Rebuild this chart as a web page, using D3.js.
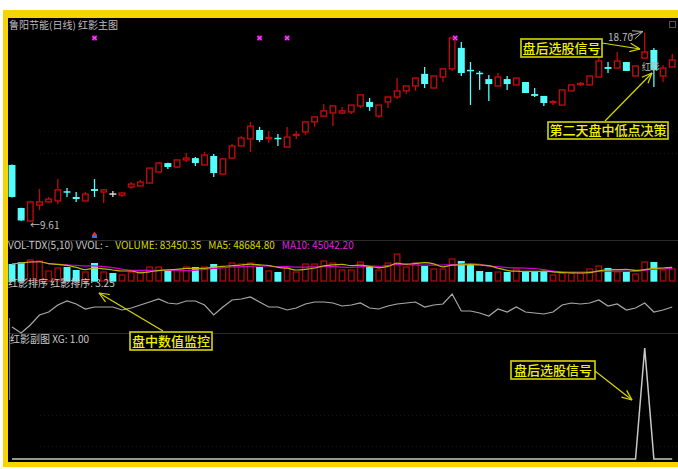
<!DOCTYPE html>
<html><head><meta charset="utf-8">
<script src="https://cdn.jsdelivr.net/npm/d3@7"></script>
<style>html,body{margin:0;padding:0;background:#fff;}svg{display:block}</style>
</head><body><svg id="c" width="678" height="469"></svg>
<script>
// ---------- data ----------
const days = d3.range(73);
const opens  = [12.33,10.26,9.63,10.40,10.55,10.60,11.03,10.79,10.60,11.17,11.03,10.93,10.88,11.27,11.32,11.46,11.99,12.42,12.23,12.57,12.66,12.33,12.76,11.89,12.66,13.24,13.58,14.01,13.60,13.60,13.19,13.75,13.92,14.40,14.68,14.83,14.83,14.88,15.17,15.36,14.68,15.36,15.60,15.89,16.13,16.71,16.03,16.56,16.95,17.96,16.87,16.73,16.46,16.13,16.46,16.18,16.32,15.74,15.65,15.33,15.21,15.89,16.20,16.18,16.56,17.04,16.99,17.28,16.61,17.47,17.86,16.61,17.04];
const highs  = [12.35,10.27,10.56,11.17,10.79,11.65,11.22,11.03,11.03,11.65,11.17,11.08,10.98,11.51,11.61,12.18,12.47,12.43,12.57,12.91,12.71,12.95,12.86,12.62,13.34,13.72,14.40,14.16,13.96,13.82,14.16,13.96,14.40,14.64,15.26,15.17,15.12,15.21,15.70,15.55,15.21,15.60,16.51,16.13,16.51,17.04,16.61,16.95,18.44,18.24,17.28,16.85,16.66,16.75,16.61,16.51,16.32,16.03,15.65,15.45,15.94,16.18,16.32,16.61,17.47,17.28,17.76,17.28,17.09,18.70,17.96,17.14,17.67];
const lows   = [10.77,9.64,9.61,10.16,10.54,10.45,10.79,10.55,10.60,10.79,10.50,10.79,10.79,11.17,11.32,11.46,11.99,12.14,12.18,12.47,12.28,12.33,11.75,11.89,12.66,13.24,12.95,13.43,13.39,13.24,13.19,13.58,13.77,14.16,14.68,14.20,14.78,14.78,15.07,14.93,14.59,15.07,15.50,15.74,15.89,16.03,16.03,16.32,16.85,16.61,15.21,15.94,15.41,16.13,15.94,16.18,15.79,15.60,15.17,15.21,15.21,15.89,16.13,16.18,16.56,16.75,16.99,16.85,16.61,17.47,16.08,16.32,17.04];
const closes = [10.79,9.66,10.55,10.55,10.69,11.13,10.98,10.69,10.93,11.08,11.13,10.93,10.98,11.41,11.51,12.18,12.42,12.23,12.57,12.66,12.42,12.81,11.94,12.62,13.24,13.63,14.20,13.53,13.65,13.55,13.67,13.80,14.40,14.64,14.93,15.17,14.93,15.21,15.70,15.12,15.21,15.60,15.89,16.13,16.51,16.22,16.61,16.95,18.44,16.75,16.83,16.68,16.22,16.56,16.22,16.51,15.79,15.65,15.31,15.38,15.94,16.18,16.25,16.61,17.33,16.95,17.33,16.85,17.09,17.76,16.90,16.99,17.38];
const volumes = [118200,132100,146000,139100,69500,90400,97300,76500,62600,125200,62600,55600,41700,62600,62600,97300,97300,69500,76500,97300,97300,97300,118200,97300,125200,118200,125200,97300,69500,62600,90400,62600,118200,118200,139100,125200,76500,76500,132100,97300,76500,125200,187700,97300,125200,104300,83450,83450,153000,139100,111200,69500,62600,62600,62600,83450,62600,62600,69500,41700,55600,55600,55600,83450,104300,90400,62600,62600,48700,132100,132100,76500,83450];
const rankValues = [1.25,0.65,1.45,2.45,2.75,3.45,3.85,3.55,3.05,3.25,3.25,3.25,2.95,3.15,3.45,3.75,4.05,3.65,3.55,3.85,3.85,3.45,2.45,3.25,3.95,4.05,4.25,3.75,3.25,3.25,2.95,3.15,3.55,3.75,3.75,3.65,3.35,3.45,3.65,3.15,3.05,3.35,3.55,3.65,3.75,3.25,3.45,3.55,4.55,2.85,2.85,2.65,2.35,3.05,2.75,3.25,2.75,2.65,2.55,2.75,3.45,3.65,3.55,3.65,3.95,3.35,3.55,2.95,3.15,3.65,2.75,2.95,3.25];
const xgValues = [0,0,0,0,0,0,0,0,0,0,0,0,0,0,0,0,0,0,0,0,0,0,0,0,0,0,0,0,0,0,0,0,0,0,0,0,0,0,0,0,0,0,0,0,0,0,0,0,0,0,0,0,0,0,0,0,0,0,0,0,0,0,0,0,0,0,0,0,0,1,0,0,0];
const markerDays = [9,27,30,48];
const priceLabels = {low:"9.61", high:"18.70"};
const headerTitle = "鲁阳节能(日线) 红影主图";
const volTexts = [["VOL-TDX(5,10) VVOL: -","#c8c8c8"],["VOLUME: 83450.35","#d8d800"],["MA5: 48684.80","#d8d800"],["MA10: 45042.20","#e020e0"]];
const rankTitle = "红影排序  红影排序: 3.25";
const xgTitle = "红影副图  XG: 1.00";

// ---------- drawing ----------
const W=678,H=469;
const svg=d3.select('#c');
const RED='#bf0b0b', CYAN='#54fcfc';
svg.append('rect').attr('width',W).attr('height',H).attr('fill','#fff');
svg.append('rect').attr('x',3).attr('y',10).attr('width',W).attr('height',457).attr('fill','#f7d400');
svg.append('rect').attr('x',8).attr('y',18).attr('width',W).attr('height',444).attr('fill','#000');

const x=d3.scaleBand().domain(days).range([7.4,676.8]).paddingInner(0.24).paddingOuter(0.12);
const bw=x.bandwidth();
const cx=i=>x(i)+bw/2;
const y=d3.scaleLinear().domain([9.61,18.70]).range([221.5,32.5]);
const yV=d3.scaleLinear().domain([0,190000]).range([281,253.7]);
const yR=d3.scaleLinear().domain([0,5]).range([339.5,289.5]);
const yX=d3.scaleLinear().domain([0,1]).range([459,348]);

// separators and faint grid
[240,333].forEach(yy=>svg.append('line').attr('x1',8).attr('x2',W).attr('y1',yy+0.5).attr('y2',yy+0.5).attr('stroke','#2a2a2a'));
[131,153,415,446].forEach(yy=>svg.append('line').attr('x1',40).attr('x2',W).attr('y1',yy+0.5).attr('y2',yy+0.5).attr('stroke','#161616').attr('stroke-dasharray','1,3'));
svg.append('line').attr('x1',9.5).attr('x2',9.5).attr('y1',318).attr('y2',400).attr('stroke','#777').attr('stroke-width',1.2);

const font='"Noto Sans CJK SC","Liberation Sans",sans-serif';
function txt(s,xx,yy,fill,size,anchor){return svg.append('text').attr('x',xx).attr('y',yy).attr('fill',fill).attr('font-size',size||10).attr('font-family',font).attr('text-anchor',anchor||'start').text(s);}

// title
txt(headerTitle,9,28.5,'#bdbdbd',10);

// candles
const g=svg.append('g');
days.forEach(i=>{
  const o=opens[i],c=closes[i],h=highs[i],l=lows[i];
  const col=c>o?RED:(c<o?CYAN:'#d8d8d8');
  const top=y(Math.max(o,c)),bot=y(Math.min(o,c));
  const xc=cx(i);
  if(c>o){
    g.append('line').attr('x1',xc).attr('x2',xc).attr('y1',y(h)).attr('y2',top).attr('stroke',col).attr('stroke-width',1.3);
    g.append('line').attr('x1',xc).attr('x2',xc).attr('y1',bot).attr('y2',y(l)).attr('stroke',col).attr('stroke-width',1.3);
    const hh=Math.max(bot-top,1);
    g.append('rect').attr('x',x(i)+0.7).attr('y',top).attr('width',bw-1.4).attr('height',hh).attr('fill','#000').attr('stroke',col).attr('stroke-width',1.4);
  } else {
    g.append('line').attr('x1',xc).attr('x2',xc).attr('y1',y(h)).attr('y2',y(l)).attr('stroke',col).attr('stroke-width',1.3);
    const hh=Math.max(bot-top,1.5);
    g.append('rect').attr('x',x(i)).attr('y',top-(bot-top<1.5?0.75:0)).attr('width',bw).attr('height',hh).attr('fill',col);
  }
});

// markers
markerDays.forEach(i=>{
  const xc=cx(i)+(i===48?3:0), yy=38;
  svg.append('rect').attr('x',xc-2.5).attr('y',yy-2.5).attr('width',5).attr('height',5).attr('fill','#8a008a');
  svg.append('path').attr('d',`M${xc-2},${yy-2}L${xc+2},${yy+2}M${xc+2},${yy-2}L${xc-2},${yy+2}`).attr('stroke','#ff40ff').attr('stroke-width',1.2);
});
svg.append('path').attr('d',`M${cx(9)-2.5},235 L${cx(9)},231.5 L${cx(9)+2.5},235 Z`).attr('fill','#e03030');
svg.append('rect').attr('x',cx(9)-2.5).attr('y',235).attr('width',5).attr('height',3).attr('fill','#3070ff');

// price labels
txt('←'+priceLabels.low,30,229,'#bdbdbd',10);
txt(priceLabels.high,608,41,'#bdbdbd',10);
svg.append('rect').attr('x',669.5).attr('y',21.5).attr('width',6).attr('height',6).attr('fill','none').attr('stroke','#555');
txt('红影',cx(69)-3,70,'#b8b8b8',9);

// volume panel
const vt=svg.append('text').attr('x',8).attr('y',249).attr('font-size',10).attr('font-family',font);
volTexts.forEach(([s,c],k)=>vt.append('tspan').attr('fill',c).attr('dx',k?7:0).text(s));
days.forEach(i=>{
  const up=closes[i]>opens[i];
  const t=yV(volumes[i]),b=yV(0);
  if(up) svg.append('rect').attr('x',x(i)+0.7).attr('y',t).attr('width',bw-1.4).attr('height',b-t).attr('fill','none').attr('stroke','#b00808').attr('stroke-width',1.3);
  else svg.append('rect').attr('x',x(i)).attr('y',t).attr('width',bw).attr('height',b-t+0.7).attr('fill',CYAN);
});
function ma(n){return volumes.map((v,i)=>d3.mean(volumes.slice(Math.max(0,i-n+1),i+1)));}
const ma5=ma(5),ma10=ma(10);
const lineV=arr=>d3.line().x((d,i)=>cx(i)).y(d=>yV(d)).curve(d3.curveMonotoneX)(arr);
svg.append('path').attr('d',lineV(ma10)).attr('fill','none').attr('stroke','#d000d0').attr('stroke-width',1.2);
svg.append('path').attr('d',lineV(ma5)).attr('fill','none').attr('stroke','#b8b800').attr('stroke-width',1.2);

// rank panel
txt(rankTitle,8,287,'#c8c8c8',10);
svg.append('path').attr('d',d3.line().x((d,i)=>cx(i)).y(d=>yR(d))(rankValues)).attr('fill','none').attr('stroke','#a8a8a8').attr('stroke-width',1.2);

// XG panel
txt(xgTitle,10,343,'#c8c8c8',10);
svg.append('path').attr('d',d3.line().x((d,i)=>cx(i)).y(d=>yX(d))(xgValues)).attr('fill','none').attr('stroke','#c8c8c8').attr('stroke-width',1.5);

// annotations
const YEL='#d8d800';
function arrow(x1,y1,x2,y2,col,w){
  svg.append('line').attr('x1',x1).attr('y1',y1).attr('x2',x2).attr('y2',y2).attr('stroke',col).attr('stroke-width',w||1.2);
  const a=Math.atan2(y1-y2,x1-x2),L=11,s=0.4;
  [a-s,a+s].forEach(b=>svg.append('line').attr('x1',x2).attr('y1',y2).attr('x2',x2+L*Math.cos(b)).attr('y2',y2+L*Math.sin(b)).attr('stroke',col).attr('stroke-width',w||1.2));
}
function box(s,x0,y0,w,h){
  svg.append('rect').attr('x',x0).attr('y',y0).attr('width',w).attr('height',h).attr('fill','#000').attr('stroke',YEL).attr('stroke-width',1.6);
  txt(s,x0+w/2,y0+h/2+4.6,'#f2f200',13,'middle').attr('font-weight',500);
}
arrow(630,36,643,31.5,'#b0b0b0',1);
arrow(602,43,640,49,YEL);
arrow(605,121,652,73,YEL);
arrow(163,331,99,293,YEL);
arrow(595,371,632,400,YEL);
box('盘后选股信号',521,39,81,18);
box('第二天盘中低点决策',548,122,120,17);
box('盘中数值监控',130,332,82,18);
box('盘后选股信号',511,361,84,18);
</script></body></html>
